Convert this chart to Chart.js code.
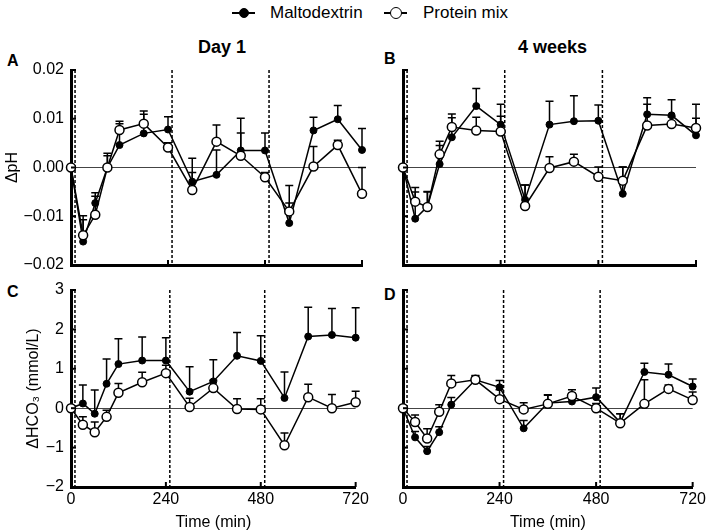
<!DOCTYPE html>
<html>
<head>
<meta charset="utf-8">
<script src="https://cdn.jsdelivr.net/npm/chart.js@4.4.0/dist/chart.umd.min.js"></script>
<style>
  body { margin: 0; background: #fff; width: 709px; height: 532px; position: relative; overflow: hidden;
         font-family: "Liberation Sans", Arial, sans-serif; color: #000; }
  canvas { position: absolute; }
  .txt { position: absolute; white-space: nowrap; line-height: 1; }
  .bold { font-weight: bold; }
  .keyline { position: absolute; height: 2px; background: #000; }
  .keydot { position: absolute; border-radius: 50%; box-sizing: border-box; border: 1.5px solid #000; }
</style>
</head>
<body>
<!-- legend -->
<div class="keyline" style="left:232px;top:12px;width:23px"></div>
<div class="keydot" style="left:239px;top:8px;width:10px;height:10px;background:#000"></div>
<div class="txt" style="left:270px;top:4px;font-size:17px">Maltodextrin</div>
<div class="keyline" style="left:384px;top:12px;width:23px"></div>
<div class="keydot" style="left:390px;top:7px;width:12px;height:12px;background:#fff"></div>
<div class="txt" style="left:423px;top:4px;font-size:17px">Protein mix</div>

<div class="txt bold" style="left:198px;top:38px;font-size:18px">Day 1</div>
<div class="txt bold" style="left:518px;top:38px;font-size:18px">4 weeks</div>
<div class="txt bold" style="left:7px;top:53px;font-size:16px">A</div>
<div class="txt bold" style="left:384px;top:51px;font-size:16px">B</div>
<div class="txt bold" style="left:7px;top:284px;font-size:16px">C</div>
<div class="txt bold" style="left:384px;top:287px;font-size:16px">D</div>

<canvas id="panelA" width="372" height="233" style="left:0;top:50px"></canvas>
<canvas id="panelB" width="377" height="233" style="left:332px;top:50px"></canvas>
<canvas id="panelC" width="372" height="262" style="left:0;top:270px"></canvas>
<canvas id="panelD" width="377" height="262" style="left:332px;top:270px"></canvas>

<script>
const times = [0, 30, 60, 90, 120, 180, 240, 300, 360, 420, 480, 540, 600, 660, 720];
const mealTimes = [10, 250, 490];
const timeTicks = [0, 240, 480, 720];
const phTicks = [-0.02, -0.01, 0, 0.01, 0.02];
const hco3Ticks = [-2, -1, 0, 1, 2, 3];

// Day 1, delta pH (mean and SEM)
const maltoPhDay1     = [0, -0.0152, -0.0073, 0.0000, 0.0046, 0.0070, 0.0078, -0.0029, -0.0015, 0.0035, 0.0035, -0.0114, 0.0076, 0.0099, 0.0036];
const maltoPhDay1Sem  = [0, 0.0053, 0.0021, 0.0029, 0.0044, 0.0039, 0.0026, 0.0048, 0.0051, 0.0066, 0.0036, 0.0077, 0.0027, 0.0028, 0.0044];
const proteinPhDay1    = [0, -0.0139, -0.0097, 0.0000, 0.0077, 0.0090, 0.0041, -0.0046, 0.0053, 0.0024, -0.0020, -0.0090, 0.0002, 0.0046, -0.0054];
const proteinPhDay1Sem = [0, 0.0032, 0.0038, 0.0024, 0.0018, 0.0026, 0.0010, 0.0036, 0.0034, 0.0047, 0.0010, 0.0017, 0.0041, 0.0010, 0.0054];

// 4 weeks, delta pH
const maltoPhWk4     = [0, -0.0105, -0.0080, 0.0007, 0.0062, 0.0126, 0.0088, -0.0066, 0.0088, 0.0095, 0.0096, -0.0054, 0.0109, 0.0107, 0.0066];
const maltoPhWk4Sem  = [0, 0.0055, 0.0030, 0.0038, 0.0040, 0.0036, 0.0042, 0.0030, 0.0048, 0.0052, 0.0032, 0.0055, 0.0034, 0.0032, 0.0064];
const proteinPhWk4    = [0, -0.0070, -0.0081, 0.0027, 0.0083, 0.0076, 0.0074, -0.0079, -0.0001, 0.0012, -0.0019, -0.0027, 0.0086, 0.0089, 0.0081];
const proteinPhWk4Sem = [0, 0.0029, 0.0032, 0.0027, 0.0027, 0.0027, 0.0031, 0.0043, 0.0023, 0.0015, 0.0020, 0.0028, 0.0044, 0.0015, 0.0020];

// Day 1, delta HCO3 (mmol/L)
const maltoHco3Day1     = [0, 0.12, -0.14, 0.62, 1.12, 1.21, 1.21, 0.42, 0.68, 1.33, 1.20, 0.26, 1.82, 1.86, 1.79];
const maltoHco3Day1Sem  = [0, 0.47, 0.60, 0.63, 0.64, 0.60, 0.58, 0.63, 0.55, 0.59, 0.64, 0.66, 0.74, 0.67, 0.76];
const proteinHco3Day1    = [0, -0.42, -0.61, -0.22, 0.39, 0.66, 0.89, 0.03, 0.51, -0.02, -0.03, -0.94, 0.28, 0.00, 0.15];
const proteinHco3Day1Sem = [0, 0.20, 0.26, 0.17, 0.24, 0.25, 0.20, 0.22, 0.20, 0.26, 0.27, 0.31, 0.33, 0.35, 0.28];

// 4 weeks, delta HCO3
const maltoHco3Wk4     = [0, -0.74, -1.09, -0.61, 0.09, 0.72, 0.53, -0.51, 0.13, 0.17, 0.28, -0.36, 0.92, 0.85, 0.55];
const maltoHco3Wk4Sem  = [0, 0.15, 0.12, 0.14, 0.18, 0.10, 0.17, 0.20, 0.20, 0.20, 0.23, 0.22, 0.22, 0.27, 0.19];
const proteinHco3Wk4    = [0, -0.35, -0.77, -0.09, 0.63, 0.72, 0.23, -0.03, 0.11, 0.31, 0.00, -0.38, 0.11, 0.49, 0.21];
const proteinHco3Wk4Sem = [0, 0.18, 0.25, 0.18, 0.20, 0.11, 0.24, 0.17, 0.23, 0.16, 0.12, 0.24, 0.61, 0.10, 0.20];

const FONT = '"Liberation Sans", Arial, sans-serif';

// dashed meal lines, SEM bars (under the markers) and inward tick marks
const panelDecor = {
    id: 'panelDecor',
    beforeDatasetsDraw(chart) {
        const { ctx, chartArea: a, scales: { x, y } } = chart;
        ctx.save();
        ctx.strokeStyle = '#000';
        ctx.lineWidth = 1.5;
        ctx.setLineDash([3, 2]);
        mealTimes.forEach(t => {
            const px = x.getPixelForValue(t);
            ctx.beginPath();
            ctx.moveTo(px, a.top);
            ctx.lineTo(px, a.bottom);
            ctx.stroke();
        });
        ctx.setLineDash([]);
        chart.data.datasets.forEach((ds, di) => {
            chart.getDatasetMeta(di).data.forEach((pt, i) => {
                if (!ds.sem[i]) return;
                const yTop = y.getPixelForValue(ds.data[i].y + ds.sem[i]);
                ctx.beginPath();
                ctx.moveTo(pt.x, pt.y);
                ctx.lineTo(pt.x, yTop);
                ctx.moveTo(pt.x - 4, yTop);
                ctx.lineTo(pt.x + 4, yTop);
                ctx.stroke();
            });
        });
        ctx.restore();
    },
    afterDraw(chart) {
        const { ctx, chartArea: a, scales: { x, y } } = chart;
        ctx.save();
        ctx.strokeStyle = '#000';
        ctx.lineWidth = 2;
        y.ticks.forEach(t => {
            const py = y.getPixelForValue(t.value);
            ctx.beginPath();
            ctx.moveTo(a.left, py);
            ctx.lineTo(a.left + 5, py);
            ctx.stroke();
        });
        x.ticks.forEach(t => {
            const px = x.getPixelForValue(t.value);
            ctx.beginPath();
            ctx.moveTo(px, a.bottom);
            ctx.lineTo(px, a.bottom - 5);
            ctx.stroke();
        });
        ctx.restore();
    }
};

function fmtPh(v) {
    return (Math.abs(v) < 1e-9 ? '0.00' : v.toFixed(2)).replace('-', '\u2212');
}
function fmtHco3(v) {
    return String(Math.round(v)).replace('-', '\u2212');
}

function makePanel(id, p) {
    const toPoints = vals => times.map((t, i) => ({ x: t, y: vals[i] }));
    return new Chart(document.getElementById(id).getContext('2d'), {
        type: 'line',
        data: {
            datasets: [
                {
                    label: 'Protein mix',
                    data: toPoints(p.protein),
                    sem: p.proteinSem,
                    order: 0,
                    borderColor: '#000',
                    borderWidth: 1.5,
                    backgroundColor: '#fff',
                    pointRadius: 4.5,
                    pointBorderWidth: 1.5,
                    pointBorderColor: '#000',
                    pointBackgroundColor: '#fff',
                    clip: false
                },
                {
                    label: 'Maltodextrin',
                    data: toPoints(p.malto),
                    sem: p.maltoSem,
                    order: 1,
                    borderColor: '#000',
                    borderWidth: 1.5,
                    backgroundColor: '#000',
                    pointRadius: 3.5,
                    pointBorderWidth: 1,
                    pointBorderColor: '#000',
                    pointBackgroundColor: '#000',
                    clip: false
                }
            ]
        },
        options: {
            responsive: false,
            animation: false,
            devicePixelRatio: 1,
            events: [],
            layout: { padding: { left: 0, top: 20, right: p.padRight, bottom: 0 } },
            plugins: { legend: { display: false }, tooltip: { enabled: false } },
            scales: {
                x: {
                    type: 'linear',
                    min: 0,
                    max: 720,
                    afterBuildTicks: s => { s.ticks = timeTicks.map(v => ({ value: v })); },
                    afterFit: s => { s.height = p.xLabels ? 45 : 18; },
                    grid: { display: false, drawTicks: false },
                    border: { display: true, width: 3, color: '#000' },
                    ticks: { display: p.xLabels, color: '#000', padding: 3, maxRotation: 0,
                             font: { family: FONT, size: 16 } },
                    title: { display: p.xLabels, text: 'Time (min)', color: '#000',
                             padding: { top: 0, bottom: 0 }, font: { family: FONT, size: 16 } }
                },
                y: {
                    type: 'linear',
                    min: p.yTicks[0],
                    max: p.yTicks[p.yTicks.length - 1],
                    afterBuildTicks: s => { s.ticks = p.yTicks.map(v => ({ value: v })); },
                    afterFit: s => { s.width = 71; },
                    grid: {
                        drawTicks: false,
                        lineWidth: 1,
                        color: c => (c.tick && Math.abs(c.tick.value) < 1e-9) ? '#444' : 'rgba(0,0,0,0)'
                    },
                    border: { display: true, width: 3, color: '#000' },
                    ticks: { display: p.yLabels, color: '#000', padding: 7, callback: p.fmt,
                             font: { family: FONT, size: 16 } },
                    title: { display: !!p.yTitle, text: p.yTitle, color: '#000',
                             padding: { top: p.yTitlePad, bottom: 0 }, font: { family: FONT, size: 16 } }
                }
            }
        },
        plugins: [panelDecor]
    });
}

makePanel('panelA', {
    malto: maltoPhDay1, maltoSem: maltoPhDay1Sem, protein: proteinPhDay1, proteinSem: proteinPhDay1Sem,
    yTicks: phTicks, fmt: fmtPh, yLabels: true, xLabels: false, yTitle: '\u0394pH', yTitlePad: 3, padRight: 10
});
makePanel('panelB', {
    malto: maltoPhWk4, maltoSem: maltoPhWk4Sem, protein: proteinPhWk4, proteinSem: proteinPhWk4Sem,
    yTicks: phTicks, fmt: fmtPh, yLabels: false, xLabels: false, yTitle: '', yTitlePad: 0, padRight: 13
});
makePanel('panelC', {
    malto: maltoHco3Day1, maltoSem: maltoHco3Day1Sem, protein: proteinHco3Day1, proteinSem: proteinHco3Day1Sem,
    yTicks: hco3Ticks, fmt: fmtHco3, yLabels: true, xLabels: true, yTitle: '\u0394HCO\u2083 (mmol/L)', yTitlePad: 24, padRight: 10
});
makePanel('panelD', {
    malto: maltoHco3Wk4, maltoSem: maltoHco3Wk4Sem, protein: proteinHco3Wk4, proteinSem: proteinHco3Wk4Sem,
    yTicks: hco3Ticks, fmt: fmtHco3, yLabels: false, xLabels: true, yTitle: '', yTitlePad: 0, padRight: 13
});
</script>
</body>
</html>
